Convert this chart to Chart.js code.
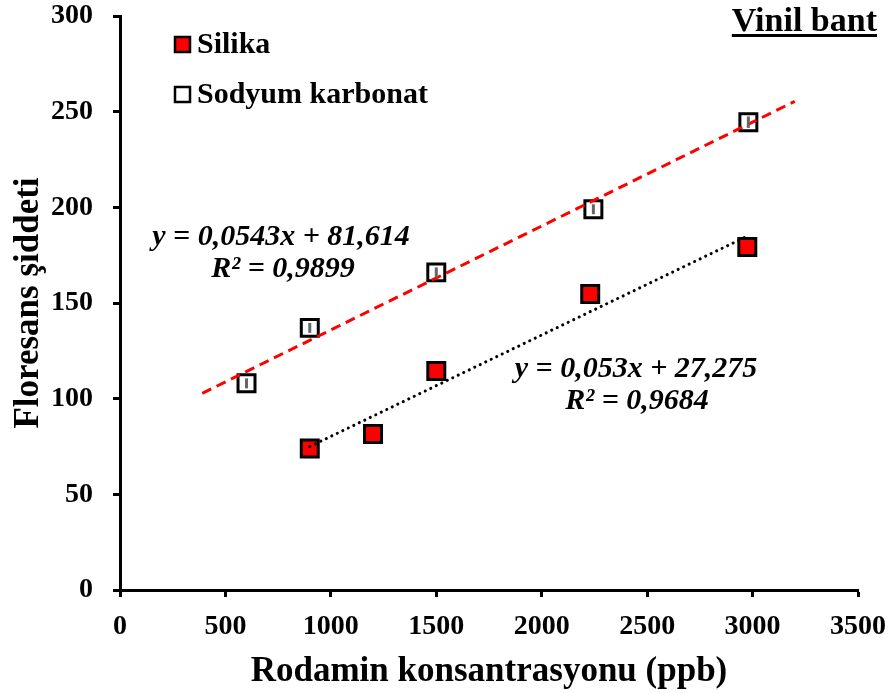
<!DOCTYPE html>
<html>
<head>
<meta charset="utf-8">
<script src="https://cdn.jsdelivr.net/npm/chart.js@4.4.1/dist/chart.umd.min.js"></script>
<style>
  html, body { margin: 0; padding: 0; background: #fff; }
  #wrap { width: 893px; height: 693px; position: relative; }
</style>
</head>
<body>
<div id="wrap"><canvas id="chart"></canvas></div>
<script>
// values
const silikaX = [900, 1200, 1500, 2230, 2975];
const silikaY = [74, 81.5, 114.5, 154.7, 179.3];
const sodyumX = [600, 900, 1500, 2245, 2980];
const sodyumY = [108, 137, 166, 199, 244.5];
const sodyumErr = [2.6, 2.6, 2.6, 2.6, 3];

// trendline ends as drawn in the picture
const sodyumTrendX = [390, 3200];
const sodyumTrendY = [102.8, 255.4];
const silikaTrendX = [900, 2965];
const silikaTrendY = [75, 184.4];

const xTicks = [0, 500, 1000, 1500, 2000, 2500, 3000, 3500];
const yTicks = [0, 50, 100, 150, 200, 250, 300];

const serif = "'Liberation Serif', 'Times New Roman', serif";

const toPoints = (xs, ys) => xs.map((x, i) => ({ x: x, y: ys[i] }));

const overlay = {
  id: 'overlay',
  afterDatasetsDraw(chart) {
    const ctx = chart.ctx;
    const xs = chart.scales.x, ys = chart.scales.y;
    ctx.save();

    // small error bars on open squares
    ctx.strokeStyle = '#666';
    ctx.lineWidth = 3;
    sodyumX.forEach((x, i) => {
      const px = xs.getPixelForValue(x);
      ctx.beginPath();
      ctx.moveTo(px, ys.getPixelForValue(sodyumY[i] - sodyumErr[i]));
      ctx.lineTo(px, ys.getPixelForValue(sodyumY[i] + sodyumErr[i]));
      ctx.stroke();
    });

    // legend
    ctx.lineWidth = 2.5;
    ctx.strokeStyle = '#000';
    ctx.fillStyle = '#ff0000';
    ctx.fillRect(175, 37, 15, 15);
    ctx.strokeRect(175, 37, 15, 15);
    ctx.fillStyle = '#fff';
    ctx.fillRect(175, 87, 15, 15);
    ctx.strokeRect(175, 87, 15, 15);
    ctx.fillStyle = '#000';
    ctx.font = 'bold 30px ' + serif;
    ctx.textBaseline = 'middle';
    ctx.textAlign = 'left';
    ctx.fillText('Silika', 197, 45);
    ctx.fillText('Sodyum karbonat', 197, 95);

    // panel title
    ctx.font = 'bold 34px ' + serif;
    ctx.textAlign = 'right';
    ctx.textBaseline = 'alphabetic';
    ctx.fillText('Vinil bant', 877, 31);
    const w = ctx.measureText('Vinil bant').width;
    ctx.fillRect(877 - w, 34, w, 3);

    // trendline equations
    ctx.font = 'italic bold 30px ' + serif;
    ctx.textAlign = 'center';
    ctx.textBaseline = 'middle';
    ctx.fillText('y = 0,0543x + 81,614', 281, 237);
    ctx.fillText('R² = 0,9899', 283, 269);
    ctx.fillText('y = 0,053x + 27,275', 636, 369);
    ctx.fillText('R² = 0,9684', 637, 401);
    ctx.restore();
  }
};

new Chart(document.getElementById('chart'), {
  type: 'scatter',
  data: {
    datasets: [
      {
        label: 'Sodyum trend',
        type: 'line',
        data: toPoints(sodyumTrendX, sodyumTrendY),
        borderColor: '#ff0000',
        borderWidth: 3,
        borderDash: [10, 6],
        pointRadius: 0,
        fill: false
      },
      {
        label: 'Silika trend',
        type: 'line',
        data: toPoints(silikaTrendX, silikaTrendY),
        borderColor: '#000',
        borderWidth: 3,
        borderDash: [0.1, 6],
        borderCapStyle: 'round',
        pointRadius: 0,
        fill: false
      },
      {
        label: 'Silika',
        data: toPoints(silikaX, silikaY),
        pointStyle: 'rect',
        pointRadius: 12,
        pointBackgroundColor: '#ff0000',
        pointBorderColor: '#000',
        pointBorderWidth: 3
      },
      {
        label: 'Sodyum karbonat',
        data: toPoints(sodyumX, sodyumY),
        pointStyle: 'rect',
        pointRadius: 12,
        pointBackgroundColor: '#fff',
        pointBorderColor: '#000',
        pointBorderWidth: 3
      }
    ]
  },
  options: {
    responsive: true,
    maintainAspectRatio: false,
    animation: false,
    layout: { padding: { top: 16, right: 35, bottom: 0, left: 0 } },
    plugins: {
      legend: { display: false },
      tooltip: { enabled: false }
    },
    scales: {
      x: {
        type: 'linear',
        min: 0,
        max: 3500,
        afterBuildTicks: (s) => { s.ticks = xTicks.map(v => ({ value: v })); },
        afterFit: (s) => { s.height = 103; s.paddingLeft = 0; s.paddingRight = 0; },
        ticks: {
          color: '#000',
          padding: 13,
          callback: (v) => String(v),
          font: { family: serif, size: 28, weight: 'bold' }
        },
        grid: { drawOnChartArea: false, drawTicks: true, tickLength: 7, tickWidth: 3, tickColor: '#000' },
        border: { color: '#000', width: 3 },
        title: {
          display: true,
          text: 'Rodamin konsantrasyonu (ppb)',
          color: '#000',
          font: { family: serif, size: 35, weight: 'bold' },
          padding: { top: 0, bottom: 0 }
        }
      },
      y: {
        type: 'linear',
        min: 0,
        max: 300,
        afterBuildTicks: (s) => { s.ticks = yTicks.map(v => ({ value: v })); },
        afterFit: (s) => { s.width = 120; s.paddingTop = 0; s.paddingBottom = 0; },
        ticks: { color: '#000', padding: 20, font: { family: serif, size: 28, weight: 'bold' } },
        grid: { drawOnChartArea: false, drawTicks: true, tickLength: 7, tickWidth: 3, tickColor: '#000' },
        border: { color: '#000', width: 3 },
        title: {
          display: true,
          text: 'Floresans şiddeti',
          color: '#000',
          font: { family: serif, size: 35, weight: 'bold' },
          padding: { top: 8, bottom: 0 }
        }
      }
    }
  },
  plugins: [overlay]
});
</script>
</body>
</html>
